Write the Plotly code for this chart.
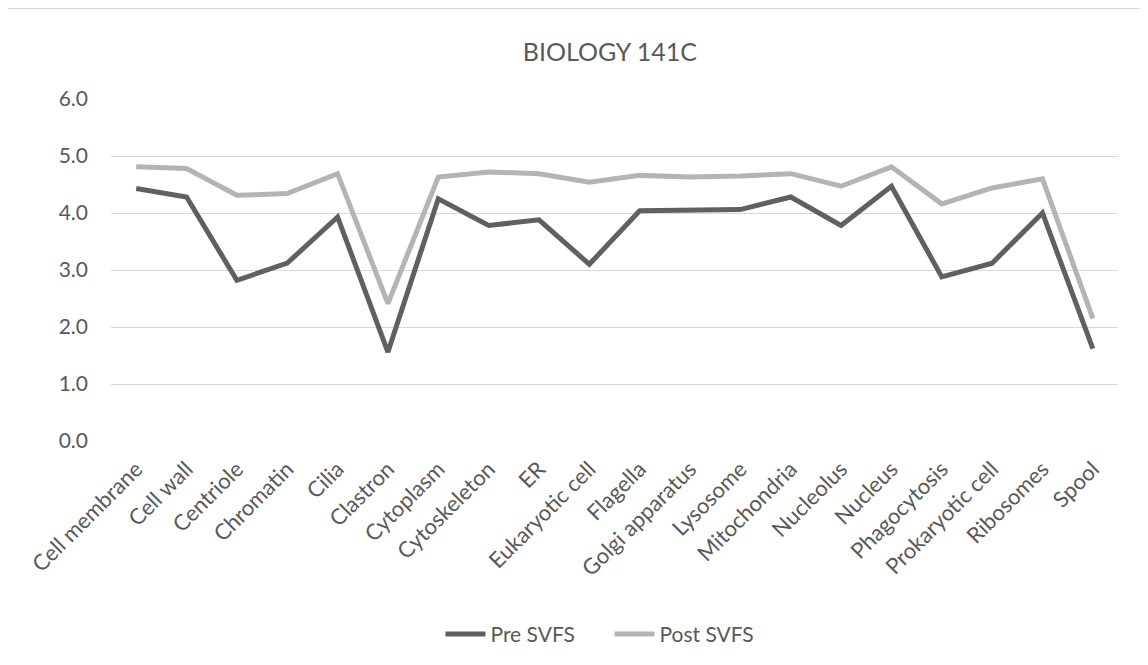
import plotly.graph_objects as go

categories = ["Cell membrane", "Cell wall", "Centriole", "Chromatin", "Cilia", "Clastron",
              "Cytoplasm", "Cytoskeleton", "ER", "Eukaryotic cell", "Flagella",
              "Golgi apparatus", "Lysosome", "Mitochondria", "Nucleolus", "Nucleus",
              "Phagocytosis", "Prokaryotic cell", "Ribosomes", "Spool"]
pre_svfs = [4.43, 4.28, 2.82, 3.12, 3.93, 1.56, 4.25, 3.78, 3.88, 3.10, 4.04,
            4.06, 4.06, 4.28, 3.78, 4.47, 2.88, 3.12, 4.00, 1.62]
post_svfs = [4.81, 4.78, 4.31, 4.34, 4.69, 2.41, 4.63, 4.72, 4.69, 4.54, 4.66,
             4.63, 4.65, 4.69, 4.47, 4.81, 4.16, 4.44, 4.60, 2.15]
y_ticks = [0, 1, 2, 3, 4, 5, 6]

FONT = "Lato"
TXT = "#595959"

fig = go.Figure()
fig.add_trace(go.Scatter(x=categories, y=pre_svfs, mode="lines", name="Pre SVFS",
                         line=dict(color="#606060", width=5)))
fig.add_trace(go.Scatter(x=categories, y=post_svfs, mode="lines", name="Post SVFS",
                         line=dict(color="#b4b4b4", width=5)))

fig.update_layout(
    width=1140, height=657,
    margin=dict(l=103, r=30, t=91, b=224, autoexpand=False),
    paper_bgcolor="white", plot_bgcolor="white",
    font=dict(family=FONT, color=TXT, size=22),
    title=dict(text="BIOLOGY 141C", x=0.528, xanchor="center", y=0.932, yanchor="middle",
               font=dict(family=FONT, size=25, color=TXT)),
    showlegend=True,
    legend=dict(orientation="h", x=0.495, xanchor="center", y=-0.565, yanchor="middle",
                font=dict(family=FONT, size=21, color=TXT), itemwidth=40,
                entrywidth=114),
    xaxis=dict(type="category", range=[-0.5, 19.5], showgrid=False, zeroline=False,
               showline=False, ticks="", tickangle=-45,
               tickfont=dict(family=FONT, size=22, color=TXT), ticklabelstandoff=10),
    yaxis=dict(range=[0, 6], tickvals=y_ticks, tickformat=".1f", showgrid=True,
               gridcolor="#d9d9d9", gridwidth=1.3, zeroline=False, showline=False,
               ticks="", tickfont=dict(family=FONT, size=21, color=TXT),
               ticklabelstandoff=22),
    shapes=[dict(type="rect", xref="paper", yref="paper", x0=-0.1033, x1=1.2,
                 y0=-1.0, y1=1.265, line=dict(color="#d9d9d9", width=1.3),
                 fillcolor="rgba(0,0,0,0)", layer="below")],
)

fig.write_html("out.html")
